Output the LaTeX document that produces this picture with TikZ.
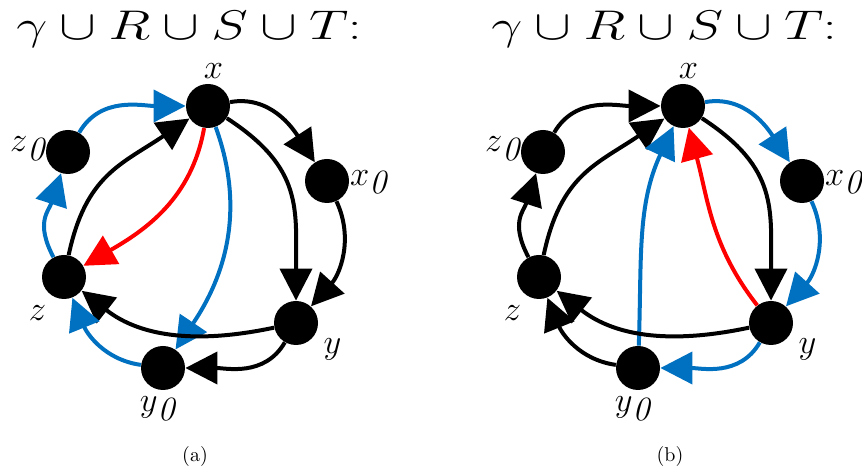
\documentclass[tikz,border=0pt]{standalone}
\usepackage{amsmath}
\usepackage{graphicx}
\usetikzlibrary{arrows.meta}
\definecolor{cBlue}{RGB}{0,112,192}
\definecolor{cRed}{RGB}{255,0,0}
\tikzset{
	vtx/.style ={circle, fill=black, inner sep=0pt, minimum size=22pt},
	lbl/.style ={inner sep=0pt, font=\fontsize{17}{20}\selectfont},
	edge/.style={-{Triangle[length=16pt, width=16pt]}, line width=2pt},
}
\newcommand{\zsub}[1]{$#1$\raisebox{-0.24em}{\textit{0}}}

\begin{document}
\begin{tikzpicture}[x=0.5pt, y=0.5pt]
	\useasboundingbox (0,0) rectangle (862,475);
	% both panels share the same vertex layout
	\foreach \p/\dx in {a/0, b/475} {
		\node[vtx] (\p-x)  at (208+\dx, 369) {};
		\node[vtx] (\p-z0) at (68+\dx, 323) {};
		\node[vtx] (\p-x0) at (327+\dx, 294) {};
		\node[vtx] (\p-z)  at (64+\dx, 198) {};
		\node[vtx] (\p-y)  at (296+\dx, 152) {};
		\node[vtx] (\p-y0) at (163+\dx, 107) {};
		\node[lbl] (\p-xl)  at ([shift={(5.5,35)}]\p-x) {$x$};
		\node[lbl] (\p-z0l) at ([shift={(-40,3)}]\p-z0) {\zsub{z}};
		\node[lbl] (\p-x0l) at ([shift={(42,-1.5)}]\p-x0) {\zsub{x}};
		\node[lbl] (\p-zl)  at ([shift={(-26.5,-36)}]\p-z) {$z$};
		\node[lbl] (\p-yl)  at ([shift={(36.5,-26)}]\p-y) {$y$};
		\node[lbl] (\p-y0l) at ([shift={(-5,-41)}]\p-y0) {\zsub{y}};
		\node[anchor=base] (\p-title) at (189+\dx, 435) {\scalebox{1.33}[1]{\fontsize{20}{24}\selectfont $\gamma\cup R\cup S\cup T$:}};
		\node[anchor=base] (\p-cap) at (195+\dx, 13) {(\p)};
	}
	% (a)
	\draw[edge, cBlue] (a-z0) to[out=60, in=180] (a-x);
	\draw[edge] (a-z) to[out=78, in=214, looseness=1.15] (a-x);
	\draw[edge, cBlue] (a-z) to[out=118, in=-108, looseness=1.2] (a-z0);
	\draw[edge] (a-x) to[out=10, in=123] (a-x0);
	\draw[edge, cRed] (a-x) to[out=-100, in=30] (a-z);
	\draw[edge, cBlue] (a-x) to[out=-70, in=56] (a-y0);
	\draw[edge] (a-x) to[out=-33, in=90, looseness=1.2] (a-y);
	\draw[edge] (a-x0) to[out=-65, in=48] (a-y);
	\draw[edge] (a-y) to[out=192, in=-38] (a-z);
	\draw[edge] (a-y) to[out=240, in=0] (a-y0);
	\draw[edge, cBlue] (a-y0) to[out=172, in=-68] (a-z);
	% (b)
	\draw[edge] (b-z0) to[out=60, in=180] (b-x);
	\draw[edge] (b-z) to[out=78, in=214, looseness=1.15] (b-x);
	\draw[edge] (b-z) to[out=118, in=-108, looseness=1.2] (b-z0);
	\draw[edge, cBlue] (b-x) to[out=10, in=123] (b-x0);
	\draw[edge, cBlue] (b-y0) to[out=88, in=-115] (b-x);
	\draw[edge, cRed] (b-y) to[out=128, in=-75] (b-x);
	\draw[edge] (b-x) to[out=-33, in=90, looseness=1.2] (b-y);
	\draw[edge, cBlue] (b-x0) to[out=-65, in=48] (b-y);
	\draw[edge] (b-y) to[out=192, in=-38] (b-z);
	\draw[edge, cBlue] (b-y) to[out=240, in=0] (b-y0);
	\draw[edge] (b-y0) to[out=172, in=-68] (b-z);
\end{tikzpicture}
\end{document}
